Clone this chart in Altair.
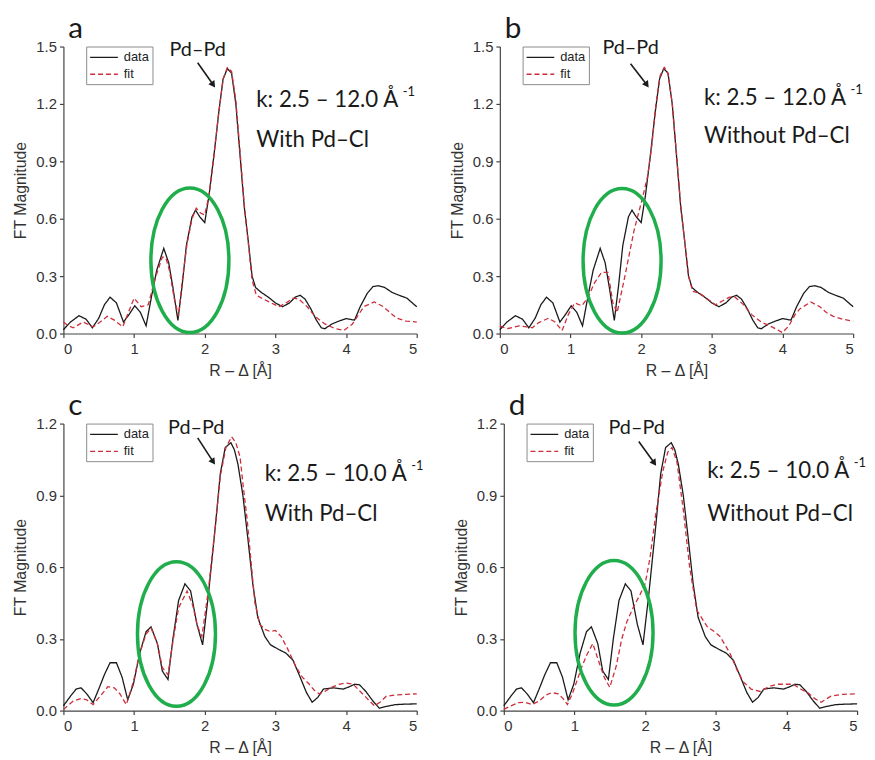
import altair as alt
import pandas as pd

# ---------------- data ----------------
# k: 2.5 - 12.0 A^-1  (panels a, b) experimental FT magnitude
r_data12 = [0, 0.1, 0.22, 0.32, 0.41, 0.5, 0.58, 0.66, 0.75, 0.85, 0.93, 1.01, 1.09, 1.17,
            1.25, 1.32, 1.42, 1.49, 1.55, 1.62, 1.68, 1.74, 1.82, 1.87, 1.93, 2.0, 2.06, 2.13,
            2.2, 2.26, 2.32, 2.38, 2.44, 2.5, 2.56, 2.62, 2.67, 2.72, 2.8, 2.9, 3.0, 3.1, 3.2,
            3.28, 3.35, 3.42, 3.5, 3.58, 3.65, 3.7, 3.8, 3.9, 4.0, 4.12, 4.2, 4.3, 4.38, 4.46,
            4.55, 4.65, 4.75, 4.86, 5.0]
v_data12 = [0.02, 0.06, 0.093, 0.075, 0.03, 0.08, 0.15, 0.19, 0.16, 0.06, 0.1, 0.145, 0.11, 0.04,
            0.2, 0.33, 0.445, 0.37, 0.24, 0.068, 0.25, 0.46, 0.61, 0.645, 0.61, 0.58, 0.72, 0.93,
            1.16, 1.33, 1.385, 1.36, 1.2, 0.93, 0.66, 0.47, 0.3, 0.24, 0.215, 0.19, 0.16, 0.14, 0.16,
            0.19, 0.2, 0.18, 0.13, 0.07, 0.03, 0.025, 0.05, 0.065, 0.078, 0.07, 0.14, 0.21, 0.245, 0.25,
            0.24, 0.215, 0.2, 0.185, 0.14]

# fit with Pd-Cl (panel a)
r_fit_a = [0, 0.07, 0.14, 0.28, 0.42, 0.52, 0.62, 0.72, 0.84, 0.93, 1.0, 1.1, 1.2, 1.3, 1.4, 1.45,
           1.5, 1.57, 1.63, 1.68, 1.75, 1.82, 1.88, 1.94, 2.0, 2.06, 2.13, 2.2, 2.26, 2.32, 2.38,
           2.44, 2.5, 2.56, 2.62, 2.67, 2.73, 2.83, 2.94, 3.05, 3.15, 3.25, 3.33, 3.45, 3.56, 3.7,
           3.85, 3.97, 4.09, 4.18, 4.25, 4.4, 4.53, 4.62, 4.72, 4.85, 5.0]
v_fit_a = [0.06, 0.04, 0.03, 0.06, 0.035, 0.06, 0.09, 0.07, 0.035, 0.12, 0.185, 0.14, 0.15, 0.29, 0.4, 0.395,
           0.33, 0.18, 0.09, 0.27, 0.47, 0.6, 0.655, 0.63, 0.62, 0.72, 0.93, 1.16, 1.33, 1.39, 1.37,
           1.22, 0.95, 0.67, 0.46, 0.28, 0.2, 0.18, 0.16, 0.14, 0.16, 0.185, 0.18, 0.14, 0.09, 0.05,
           0.025, 0.016, 0.05, 0.1, 0.14, 0.165, 0.14, 0.11, 0.08, 0.065, 0.06]

# fit without Pd-Cl (panel b)
r_fit_b = [0, 0.1, 0.27, 0.38, 0.46, 0.55, 0.69, 0.78, 0.88, 0.97, 1.06, 1.16, 1.25, 1.34, 1.44,
           1.53, 1.6, 1.66, 1.77, 1.9, 2.02, 2.09, 2.15, 2.21, 2.27, 2.33, 2.38, 2.44, 2.5, 2.56,
           2.62, 2.67, 2.73, 2.83, 2.94, 3.05, 3.15, 3.25, 3.33, 3.45, 3.56, 3.7, 3.85, 4.0, 4.09,
           4.18, 4.25, 4.4, 4.53, 4.62, 4.72, 4.85, 5.0]
v_fit_b = [0.04, 0.025, 0.04, 0.035, 0.03, 0.057, 0.08, 0.06, 0.015, 0.1, 0.16, 0.145, 0.19, 0.265, 0.32,
           0.32, 0.16, 0.11, 0.3, 0.54, 0.71, 0.82, 0.98, 1.2, 1.35, 1.39, 1.36, 1.2, 0.94, 0.67,
           0.47, 0.3, 0.22, 0.21, 0.18, 0.15, 0.17, 0.19, 0.19, 0.15, 0.1, 0.06, 0.035, 0.005, 0.04,
           0.1, 0.13, 0.165, 0.14, 0.11, 0.09, 0.075, 0.065]

# k: 2.5 - 10.0 A^-1  (panels c, d) experimental FT magnitude
r_data10 = [0, 0.1, 0.18, 0.25, 0.33, 0.42, 0.5, 0.58, 0.66, 0.75, 0.83, 0.91, 0.99, 1.08, 1.17,
            1.24, 1.33, 1.4, 1.48, 1.55, 1.63, 1.72, 1.8, 1.89, 1.97, 2.05, 2.15, 2.22, 2.29, 2.37,
            2.42, 2.47, 2.54, 2.61, 2.68, 2.75, 2.85, 2.93, 3.05, 3.15, 3.25, 3.35, 3.44, 3.52, 3.6,
            3.68, 3.82, 3.96, 4.05, 4.12, 4.19, 4.28, 4.38, 4.47, 4.58, 4.7, 4.85, 5.0]
v_data10 = [0.02, 0.06, 0.09, 0.095, 0.07, 0.033, 0.09, 0.15, 0.2, 0.2, 0.14, 0.045, 0.11, 0.24, 0.33,
            0.35, 0.28, 0.165, 0.13, 0.3, 0.46, 0.53, 0.5, 0.36, 0.275, 0.48, 0.77, 0.99, 1.1, 1.12,
            1.09, 1.03, 0.9, 0.72, 0.53, 0.39, 0.31, 0.275, 0.255, 0.24, 0.21, 0.14, 0.075, 0.035, 0.055,
            0.09, 0.095, 0.09, 0.1, 0.11, 0.108, 0.08, 0.04, 0.01, 0.018, 0.025, 0.027, 0.028]

# fit with Pd-Cl (panel c)
r_fit_c = [0, 0.14, 0.25, 0.33, 0.42, 0.52, 0.63, 0.72, 0.8, 0.89, 0.99, 1.08, 1.17, 1.24, 1.33,
           1.4, 1.48, 1.55, 1.63, 1.75, 1.83, 1.9, 1.96, 2.05, 2.15, 2.22, 2.3, 2.38, 2.44, 2.5,
           2.54, 2.6, 2.64, 2.71, 2.78, 2.85, 2.93, 3.0, 3.08, 3.17, 3.28, 3.38, 3.48, 3.55, 3.62,
           3.7, 3.78, 3.9, 4.0, 4.1, 4.2, 4.29, 4.4, 4.48, 4.57, 4.7, 4.85, 5.0]
v_fit_c = [0.005, 0.04, 0.05, 0.045, 0.025, 0.06, 0.1, 0.095, 0.07, 0.025, 0.12, 0.24, 0.32, 0.345, 0.28,
           0.18, 0.15, 0.29, 0.43, 0.5, 0.44, 0.35, 0.31, 0.5, 0.77, 0.98, 1.1, 1.145, 1.12, 1.06,
           0.95, 0.8, 0.67, 0.45, 0.36, 0.34, 0.33, 0.335, 0.31, 0.26, 0.19, 0.14, 0.11, 0.085, 0.07,
           0.08, 0.095, 0.11, 0.115, 0.11, 0.08, 0.053, 0.02, 0.035, 0.06, 0.065, 0.068, 0.07]

# fit without Pd-Cl (panel d)
r_fit_d = [0, 0.1, 0.21, 0.3, 0.4, 0.5, 0.6, 0.68, 0.77, 0.84, 0.9, 0.97, 1.03, 1.1, 1.17, 1.26,
           1.35, 1.42, 1.5, 1.59, 1.67, 1.74, 1.83, 1.92, 2.0, 2.07, 2.15, 2.25, 2.32, 2.38, 2.45,
           2.54, 2.63, 2.73, 2.88, 2.98, 3.06, 3.2, 3.3, 3.39, 3.5, 3.63, 3.75, 3.87, 4.0, 4.1, 4.2,
           4.3, 4.4, 4.49, 4.63, 4.8, 5.0]
v_fit_d = [0.005, 0.02, 0.033, 0.035, 0.025, 0.04, 0.065, 0.075, 0.07, 0.05, 0.025, 0.07, 0.12, 0.18, 0.23, 0.28,
           0.2, 0.14, 0.097, 0.185, 0.3, 0.37, 0.43, 0.48, 0.53, 0.64, 0.82, 1.0, 1.08, 1.1, 1.04,
           0.84, 0.6, 0.42, 0.35, 0.33, 0.31, 0.24, 0.17, 0.12, 0.09, 0.08, 0.1, 0.11, 0.11, 0.11, 0.09,
           0.075, 0.05, 0.035, 0.06, 0.068, 0.07]

series_names = ["data", "fit"]
x_ticks = [0, 1, 2, 3, 4, 5]
y_ticks_12 = [0.0, 0.3, 0.6, 0.9, 1.2, 1.5]
y_ticks_10 = [0.0, 0.3, 0.6, 0.9, 1.2]

# annotation anchors (data coordinates)
panel_letters = ["a", "b", "c", "d"]
k_labels = ["k: 2.5 – 12.0 Å", "k: 2.5 – 12.0 Å", "k: 2.5 – 10.0 Å", "k: 2.5 – 10.0 Å"]
cl_labels = ["With Pd–Cl", "Without Pd–Cl", "With Pd–Cl", "Without Pd–Cl"]
k_xy = [(2.73, 1.22), (2.89, 1.23), (2.85, 0.99), (2.88, 1.0)]
cl_xy = [(2.73, 1.01), (2.89, 1.03), (2.85, 0.82), (2.88, 0.82)]
pd_xy = [(1.9, 1.48), (1.85, 1.49), (1.88, 1.18), (1.88, 1.18)]
arrow_from = [(1.9, 1.415), (1.85, 1.41), (1.9, 1.14), (1.91, 1.125)]
arrow_to = [(2.12, 1.30), (2.08, 1.30), (2.12, 1.04), (2.13, 1.035)]
ellipse_xy = [(1.79, 0.383), (1.73, 0.38), (1.6, 0.32), (1.56, 0.325)]

AX_FONT = "Liberation Sans"
TX_FONT = "Lato"
GREEN = "#1fae4b"
RED = "#cc2f3a"
BLACK = "#1a1a1a"
ELLIPSE = "M -0.54 0 A 0.54 1 0 1 1 0.54 0 A 0.54 1 0 1 1 -0.54 0 Z"
LEGEND_LINE = "M -2 0 L 2 0"
TXT_SIZE = 22.5


def panel(i, rd, vd, rf, vf, yticks):
    df = pd.DataFrame({
        "r": rd + rf,
        "v": vd + vf,
        "series": ["data"] * len(rd) + ["fit"] * len(rf),
    })
    x = alt.X("r:Q", scale=alt.Scale(domain=[0, 5], nice=False),
              axis=alt.Axis(values=x_ticks, format="d", title="R – Δ [Å]"))
    y = alt.Y("v:Q", scale=alt.Scale(domain=[0, yticks[-1]], nice=False),
              axis=alt.Axis(values=yticks, format=".1f", title="FT Magnitude"))
    leg = alt.Legend(title=None, orient="none", legendX=23, legendY=0,
                     fillColor="white", strokeColor="#8c8c8c", padding=3,
                     symbolType=LEGEND_LINE, symbolSize=196, symbolStrokeWidth=1.3,
                     symbolOffset=7, symbolFillColor="transparent",
                     labelFont=AX_FONT, labelFontSize=13, labelColor="#222",
                     rowPadding=2, labelOffset=12)
    lines = alt.Chart(df).mark_line(strokeWidth=1.3).encode(
        x=x, y=y,
        color=alt.Color("series:N", scale=alt.Scale(domain=series_names, range=[BLACK, RED]), legend=leg),
        strokeDash=alt.StrokeDash("series:N", scale=alt.Scale(domain=series_names, range=[[1, 0], [5, 3]]), legend=leg),
    )
    one = lambda xy: pd.DataFrame({"r": [xy[0]], "v": [xy[1]]})
    ell = alt.Chart(one(ellipse_xy[i])).mark_point(
        shape=ELLIPSE, size=21316, filled=False, stroke=GREEN, strokeWidth=3.5, opacity=1
    ).encode(x=x, y=y)
    arr_df = pd.DataFrame({"r": [arrow_from[i][0]], "v": [arrow_from[i][1]],
                           "r2": [arrow_to[i][0]], "v2": [arrow_to[i][1]]})
    shaft = alt.Chart(arr_df).mark_rule(color=BLACK, strokeWidth=1.6).encode(
        x=x, y=y, x2="r2:Q", y2="v2:Q")
    head = alt.Chart(one(arrow_to[i])).mark_point(
        shape="triangle-down", size=55, filled=True, color=BLACK, opacity=1, angle=325
    ).encode(x=x, y=y)
    pdpd = alt.Chart(one(pd_xy[i])).mark_text(
        text="Pd–Pd", font=TX_FONT, fontSize=20, align="center", baseline="middle", color=BLACK
    ).encode(x=x, y=y)
    ktxt = alt.Chart(one(k_xy[i])).mark_text(
        text=k_labels[i], font=TX_FONT, fontSize=TXT_SIZE, align="left", baseline="middle", color=BLACK
    ).encode(x=x, y=y)
    ksup = alt.Chart(one(k_xy[i])).mark_text(
        text="-1", font=TX_FONT, fontSize=13, align="left", baseline="middle", color=BLACK,
        dx=148, dy=-8
    ).encode(x=x, y=y)
    cl = alt.Chart(one(cl_xy[i])).mark_text(
        text=cl_labels[i], font=TX_FONT, fontSize=TXT_SIZE, align="left", baseline="middle", color=BLACK
    ).encode(x=x, y=y)
    letter = alt.Chart(pd.DataFrame({"r": [0]})).mark_text(
        text=panel_letters[i], font=TX_FONT, fontSize=30, align="left", baseline="alphabetic", color=BLACK
    ).encode(x=alt.value(5), y=alt.value(-9))
    return alt.layer(lines, ell, shaft, head, pdpd, ktxt, ksup, cl, letter).properties(width=357, height=290)


pa = panel(0, r_data12, v_data12, r_fit_a, v_fit_a, y_ticks_12)
pb = panel(1, r_data12, v_data12, r_fit_b, v_fit_b, y_ticks_12)
pc = panel(2, r_data10, v_data10, r_fit_c, v_fit_c, y_ticks_10)
pd_ = panel(3, r_data10, v_data10, r_fit_d, v_fit_d, y_ticks_10)

row1 = alt.hconcat(pa, pb, spacing=30).resolve_scale(color="independent", strokeDash="independent")
row2 = alt.hconcat(pc, pd_, spacing=30).resolve_scale(color="independent", strokeDash="independent")
chart = alt.vconcat(row1, row2, spacing=13).resolve_scale(
    color="independent", strokeDash="independent"
).properties(
    padding={"left": 5, "top": 2, "right": 0, "bottom": 0}
).configure_view(stroke=None).configure_axis(
    domainColor="#444", tickColor="#444", labelColor="#333", titleColor="#333",
    labelFont=AX_FONT, titleFont=AX_FONT, labelFontSize=15, titleFontSize=16,
    titleFontWeight="normal", grid=False, tickSize=4, domainWidth=1.2, tickWidth=1.2
).configure_axisY(labelPadding=3, titlePadding=7).configure_axisX(labelPadding=4, titlePadding=6)

chart.save("out.html", embed_options={"renderer": "svg", "actions": False})
